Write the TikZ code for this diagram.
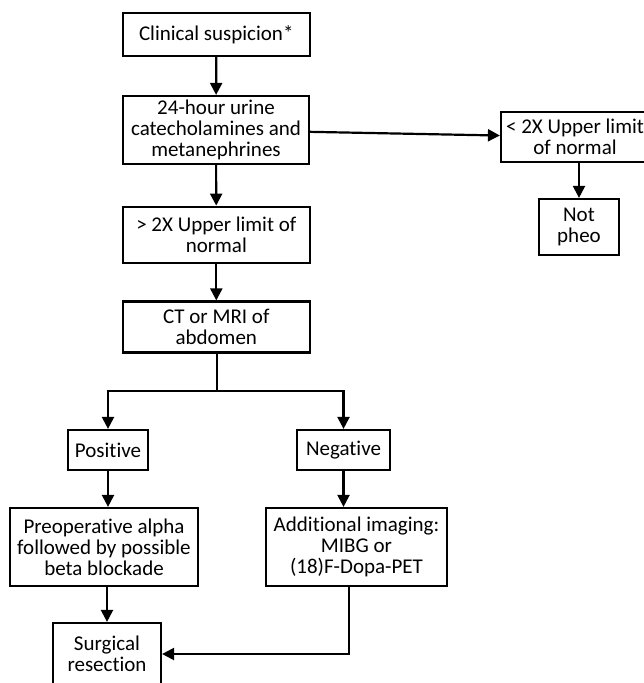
\documentclass[tikz,border=0pt]{standalone}
\usepackage{fontspec}
\setmainfont{Carlito}[Ligatures=NoCommon]
\usetikzlibrary{arrows.meta}
\begin{document}
\begin{tikzpicture}[x=1pt, y=-1pt]
  \tikzstyle{box}=[draw, line width=2.2pt, align=center, inner sep=0pt, font=\fontsize{21pt}{20.8pt}\selectfont]
  \tikzstyle{arr}=[line width=2.2pt, -{Triangle[length=12pt, width=12pt]}]
  \useasboundingbox (0,0) rectangle (644,683);

  \node[box, minimum width=187pt, minimum height=43pt] (clin)  at (216.3, 34.5) {Clinical suspicion*};
  \node[box, minimum width=186pt, minimum height=68pt] (urine) at (216,   130)  {24-hour urine\\catecholamines and\\metanephrines};
  \node[box, minimum width=187pt, minimum height=56pt] (high)  at (216.3, 234.7) {> 2X Upper limit of\\normal};
  \node[box, minimum width=187pt, minimum height=51pt] (ct)    at (216.3, 327)  {CT or MRI of\\abdomen};
  \node[box, minimum width=148pt, minimum height=50pt] (low)   at (575,   137)  {< 2X Upper limit\\of normal};
  \node[box, minimum width=80pt,  minimum height=56pt] (pheo)  at (579,   227)  {Not\\pheo};
  \node[box, minimum width=80pt,  minimum height=40pt] (pos)   at (108,   450)  {Positive};
  \node[box, minimum width=93pt,  minimum height=40pt] (neg)   at (343.5, 450)  {Negative};
  \node[box, minimum width=188pt, minimum height=78pt] (preop) at (104,   547)  {Preoperative alpha\\followed by possible\\beta blockade};
  \node[box, minimum width=181pt, minimum height=78pt] (addl)  at (356.5, 547)  {Additional imaging:\\MIBG or\\(18)F-Dopa-PET};
  \node[box, minimum width=108pt, minimum height=62pt] (surg)  at (107,   654)  {Surgical\\resection};
  \coordinate (split) at (216.7, 390.7);

  \path (clin)  edge[arr] (urine);
  \path (urine) edge[arr] (high);
  \path (high)  edge[arr] (ct);
  \path (urine) edge[arr] (low);
  \path (pheo.north |- low.south) edge[arr] (pheo.north);
  \draw[line width=2.2pt] (ct.south -| split) -- (split);
  \draw[arr] (split) -| (pos.north);
  \draw[arr] (split) -| (neg.north);
  \path (pos.south)  edge[arr] (pos.south |- preop.north);
  \path (neg.south)  edge[arr] (neg.south |- addl.north);
  \path (preop.south -| surg) edge[arr] (surg.north);
  \draw[arr] (addl.south -| 349,0) |- (surg.east);
\end{tikzpicture}
\end{document}
